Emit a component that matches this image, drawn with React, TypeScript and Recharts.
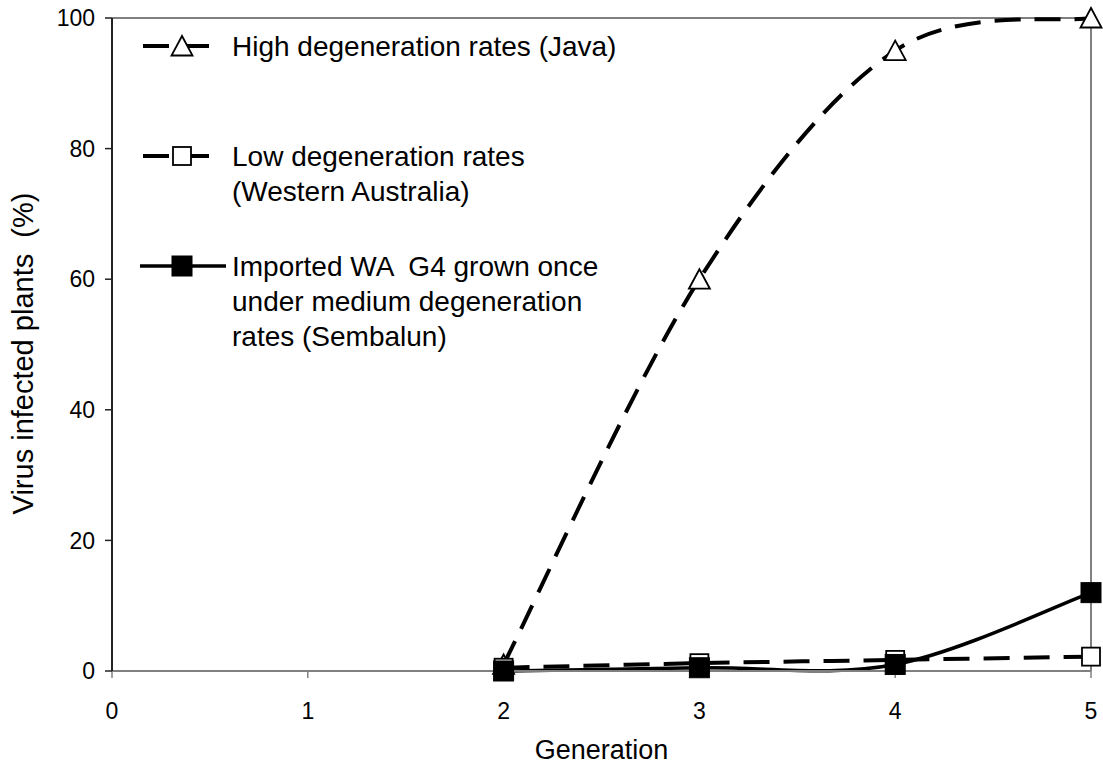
import React from "react";
import { LineChart, Line, XAxis, YAxis, ReferenceLine } from "recharts";

const generations = [2, 3, 4, 5];
const javaValues = [1, 60, 95, 100];
const waValues = [0.5, 1.2, 1.7, 2.2];
const sembalunValues = [0, 0.5, 1, 12];
const xTicks = [0, 1, 2, 3, 4, 5];
const yTicks = [0, 20, 40, 60, 80, 100];

const seriesNames = {
  java: ["High degeneration rates (Java)"],
  wa: ["Low degeneration rates", "(Western Australia)"],
  sembalun: ["Imported WA  G4 grown once", "under medium degeneration", "rates (Sembalun)"],
};

const data = generations.map((g, i) => ({
  gen: g,
  java: javaValues[i],
  wa: waValues[i],
  sembalun: sembalunValues[i],
}));

const FONT = "'Liberation Sans', Arial, Helvetica, sans-serif";
const DASH = "26 14";

// Catmull-Rom style smoothing similar to Excel's smoothed lines
function smoothCurve(context: any) {
  let xs: number[] = [];
  let ys: number[] = [];
  return {
    areaStart() {},
    areaEnd() {},
    lineStart() {
      xs = [];
      ys = [];
    },
    lineEnd() {
      const n = xs.length;
      if (!n) return;
      context.moveTo(xs[0], ys[0]);
      for (let i = 0; i < n - 1; i++) {
        const i0 = Math.max(i - 1, 0);
        const i3 = Math.min(i + 2, n - 1);
        const c1x = xs[i] + (xs[i + 1] - xs[i0]) / 6;
        const c1y = ys[i] + (ys[i + 1] - ys[i0]) / 6;
        const c2x = xs[i + 1] - (xs[i3] - xs[i]) / 6;
        const c2y = ys[i + 1] - (ys[i3] - ys[i]) / 6;
        context.bezierCurveTo(c1x, c1y, c2x, c2y, xs[i + 1], ys[i + 1]);
      }
    },
    point(x: number, y: number) {
      xs.push(+x);
      ys.push(+y);
    },
  };
}

const Triangle = ({ cx, cy }: any) => (
  <polygon
    points={`${cx},${cy - 10} ${cx - 10.5},${cy + 9.5} ${cx + 10.5},${cy + 9.5}`}
    fill="#fff"
    stroke="#000"
    strokeWidth={1.8}
  />
);
const OpenSquare = ({ cx, cy }: any) => (
  <rect x={cx - 9} y={cy - 9} width={18} height={18} fill="#fff" stroke="#000" strokeWidth={1.8} />
);
const FilledSquare = ({ cx, cy }: any) => (
  <rect x={cx - 10} y={cy - 10} width={20} height={20} fill="#000" stroke="#000" strokeWidth={1} />
);

const YLabel = ({ viewBox }: any) => {
  const cx = 23;
  const cy = viewBox.y + viewBox.height / 2 + 9;
  return (
    <text
      x={cx}
      y={cy}
      transform={`rotate(-90, ${cx}, ${cy})`}
      textAnchor="middle"
      dominantBaseline="central"
      fontSize={29}
      fontFamily={FONT}
      fill="#000"
      style={{ whiteSpace: "pre" }}
    >
      Virus infected plants  (%)
    </text>
  );
};

const XLabel = ({ viewBox }: any) => (
  <text
    x={viewBox.x + viewBox.width / 2}
    y={viewBox.y + 88}
    textAnchor="middle"
    fontSize={27}
    fontFamily={FONT}
    fill="#000"
  >
    Generation
  </text>
);

const legendEntries = [
  { key: "java", lines: seriesNames.java, dashed: true, marker: "tri", y: 46, x1: 143, x2: 212 },
  { key: "wa", lines: seriesNames.wa, dashed: true, marker: "open", y: 156, x1: 143, x2: 212 },
  { key: "sembalun", lines: seriesNames.sembalun, dashed: false, marker: "filled", y: 266, x1: 140, x2: 226 },
];

const LegendOverlay = () => (
  <svg
    width={1103}
    height={767}
    style={{ position: "absolute", left: 0, top: 0, pointerEvents: "none" }}
  >
    {legendEntries.map((e) => (
      <g key={e.key}>
        <line
          x1={e.x1}
          x2={e.x2}
          y1={e.y}
          y2={e.y}
          stroke="#000"
          strokeWidth={e.dashed ? 4 : 3.5}
          strokeDasharray={e.dashed ? DASH : undefined}
        />
        {e.marker === "tri" && <Triangle cx={182} cy={e.y} />}
        {e.marker === "open" && <OpenSquare cx={182} cy={e.y} />}
        {e.marker === "filled" && <FilledSquare cx={182} cy={e.y} />}
        {e.lines.map((t, i) => (
          <text
            key={i}
            x={232}
            y={e.y + i * 35 + 10}
            fontSize={28}
            fontFamily={FONT}
            fill="#000"
            style={{ whiteSpace: "pre" }}
          >
            {t}
          </text>
        ))}
      </g>
    ))}
  </svg>
);

export default function App() {
  return (
    <div style={{ position: "absolute", left: 0, top: 0, width: 1103, height: 767, background: "#fff" }}>
      <LineChart
        width={1103}
        height={767}
        data={data}
        margin={{ top: 18, right: 12, bottom: 0, left: 0 }}
      >
        <XAxis
          dataKey="gen"
          type="number"
          domain={[0, 5]}
          ticks={xTicks}
          interval={0}
          height={96}
          axisLine={{ stroke: "#808080", strokeWidth: 2 }}
          tickLine={{ stroke: "#808080", strokeWidth: 1.5 }}
          tickSize={7}
          tickMargin={25}
          tick={{ fontSize: 23, fontFamily: FONT, fill: "#000" }}
          label={<XLabel />}
        />
        <YAxis
          type="number"
          domain={[0, 100]}
          ticks={yTicks}
          interval={0}
          width={112}
          axisLine={{ stroke: "#222", strokeWidth: 2 }}
          tickLine={{ stroke: "#222", strokeWidth: 1.5 }}
          tickSize={7}
          tickMargin={10}
          tick={{ fontSize: 23, fontFamily: FONT, fill: "#000" }}
          label={<YLabel />}
        />
        <ReferenceLine y={100} stroke="#808080" strokeWidth={2} />
        <ReferenceLine x={5} stroke="#808080" strokeWidth={2} />
        <Line
          dataKey="java"
          type={smoothCurve as any}
          stroke="#000"
          strokeWidth={4}
          strokeDasharray={DASH}
          dot={<Triangle />}
          activeDot={false}
          isAnimationActive={false}
        />
        <Line
          dataKey="wa"
          type={smoothCurve as any}
          stroke="#000"
          strokeWidth={4}
          strokeDasharray={DASH}
          dot={<OpenSquare />}
          activeDot={false}
          isAnimationActive={false}
        />
        <Line
          dataKey="sembalun"
          type={smoothCurve as any}
          stroke="#000"
          strokeWidth={3.5}
          dot={<FilledSquare />}
          activeDot={false}
          isAnimationActive={false}
        />
      </LineChart>
      <LegendOverlay />
    </div>
  );
}
